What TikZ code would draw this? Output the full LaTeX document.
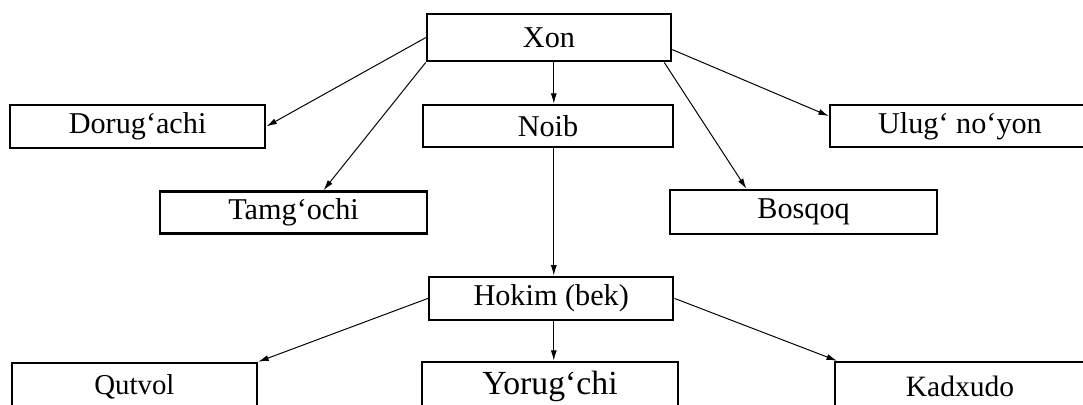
\documentclass[tikz,border=0pt]{standalone}
\usepackage{fontspec}
\setmainfont{Liberation Serif}
\usetikzlibrary{arrows.meta}
\begin{document}
\begin{tikzpicture}[
    box/.style={draw, line width=1.8pt, rectangle, inner sep=0pt,
                font=\fontsize{21.5}{24}\selectfont},
    arr/.style={-{Latex[length=2.6mm,width=1.5mm]}, line width=0.7pt}
  ]
  \clip (0,0) rectangle (27.075,-10.1);

  \node[box, minimum width=6.1cm, minimum height=1.18cm] (Xon) at (13.725,-0.94) {Xon};

  \node[box, minimum width=6.38cm, minimum height=1.08cm] (Dorug) at (3.44,-3.16) {Dorug‘achi};
  \node[box, minimum width=6.25cm, minimum height=1.05cm] (Noib) at (13.7,-3.15) {Noib};
  \node[box, minimum width=6.5cm, minimum height=1.05cm] (Ulug) at (24.0,-3.15) {Ulug‘ no‘yon};

  \node[box, minimum width=6.68cm, minimum height=1.05cm] (Tamg) at (7.34,-5.31) {Tamg‘ochi};
  \node[box, minimum width=6.68cm, minimum height=1.1cm] (Bosqoq) at (20.09,-5.3) {Bosqoq};

  \node[box, minimum width=6.1cm, minimum height=1.08cm] (Hokim) at (13.78,-7.46) {Hokim (bek)};

  \node[box, minimum width=6.13cm, minimum height=1.2cm, font=\fontsize{20.5}{23}\selectfont] (Qutvol) at (3.36,-9.675) {Qutvol};
  \node[box, minimum width=6.4cm, minimum height=1.2cm, font=\fontsize{24}{26}\selectfont] (Yorug) at (13.75,-9.65) {Yorug‘chi};
  \node[box, minimum width=6.25cm, minimum height=1.2cm, font=\fontsize{21}{23}\selectfont] (Kadxudo) at (24.0,-9.65) {Kadxudo};

  % Xon
  \draw[arr] (Xon.west) -- (Dorug.east);
  \draw[arr] (Xon.south west) -- ([xshift=0.75cm]Tamg.north);
  \draw[arr] ([xshift=0.12cm]Xon.south) -- ([xshift=0.12cm]Xon.south |- Noib.north);
  \draw[arr] ([xshift=-0.2cm]Xon.south east) -- ([xshift=-1.43cm]Bosqoq.north);
  \draw[arr] ([yshift=-0.3cm]Xon.east) -- ([yshift=0.25cm]Ulug.west);

  % Noib
  \draw[arr] ([xshift=0.12cm]Xon.south |- Noib.south) -- ([xshift=0.12cm]Xon.south |- Hokim.north);

  % Hokim
  \draw[arr] (Hokim.west) -- (Qutvol.north east);
  \draw[arr] ([xshift=0.12cm]Xon.south |- Hokim.south) -- ([xshift=0.12cm]Xon.south |- Yorug.north);
  \draw[arr] (Hokim.east) -- ([xshift=0.08cm]Kadxudo.north west);
\end{tikzpicture}
\end{document}
